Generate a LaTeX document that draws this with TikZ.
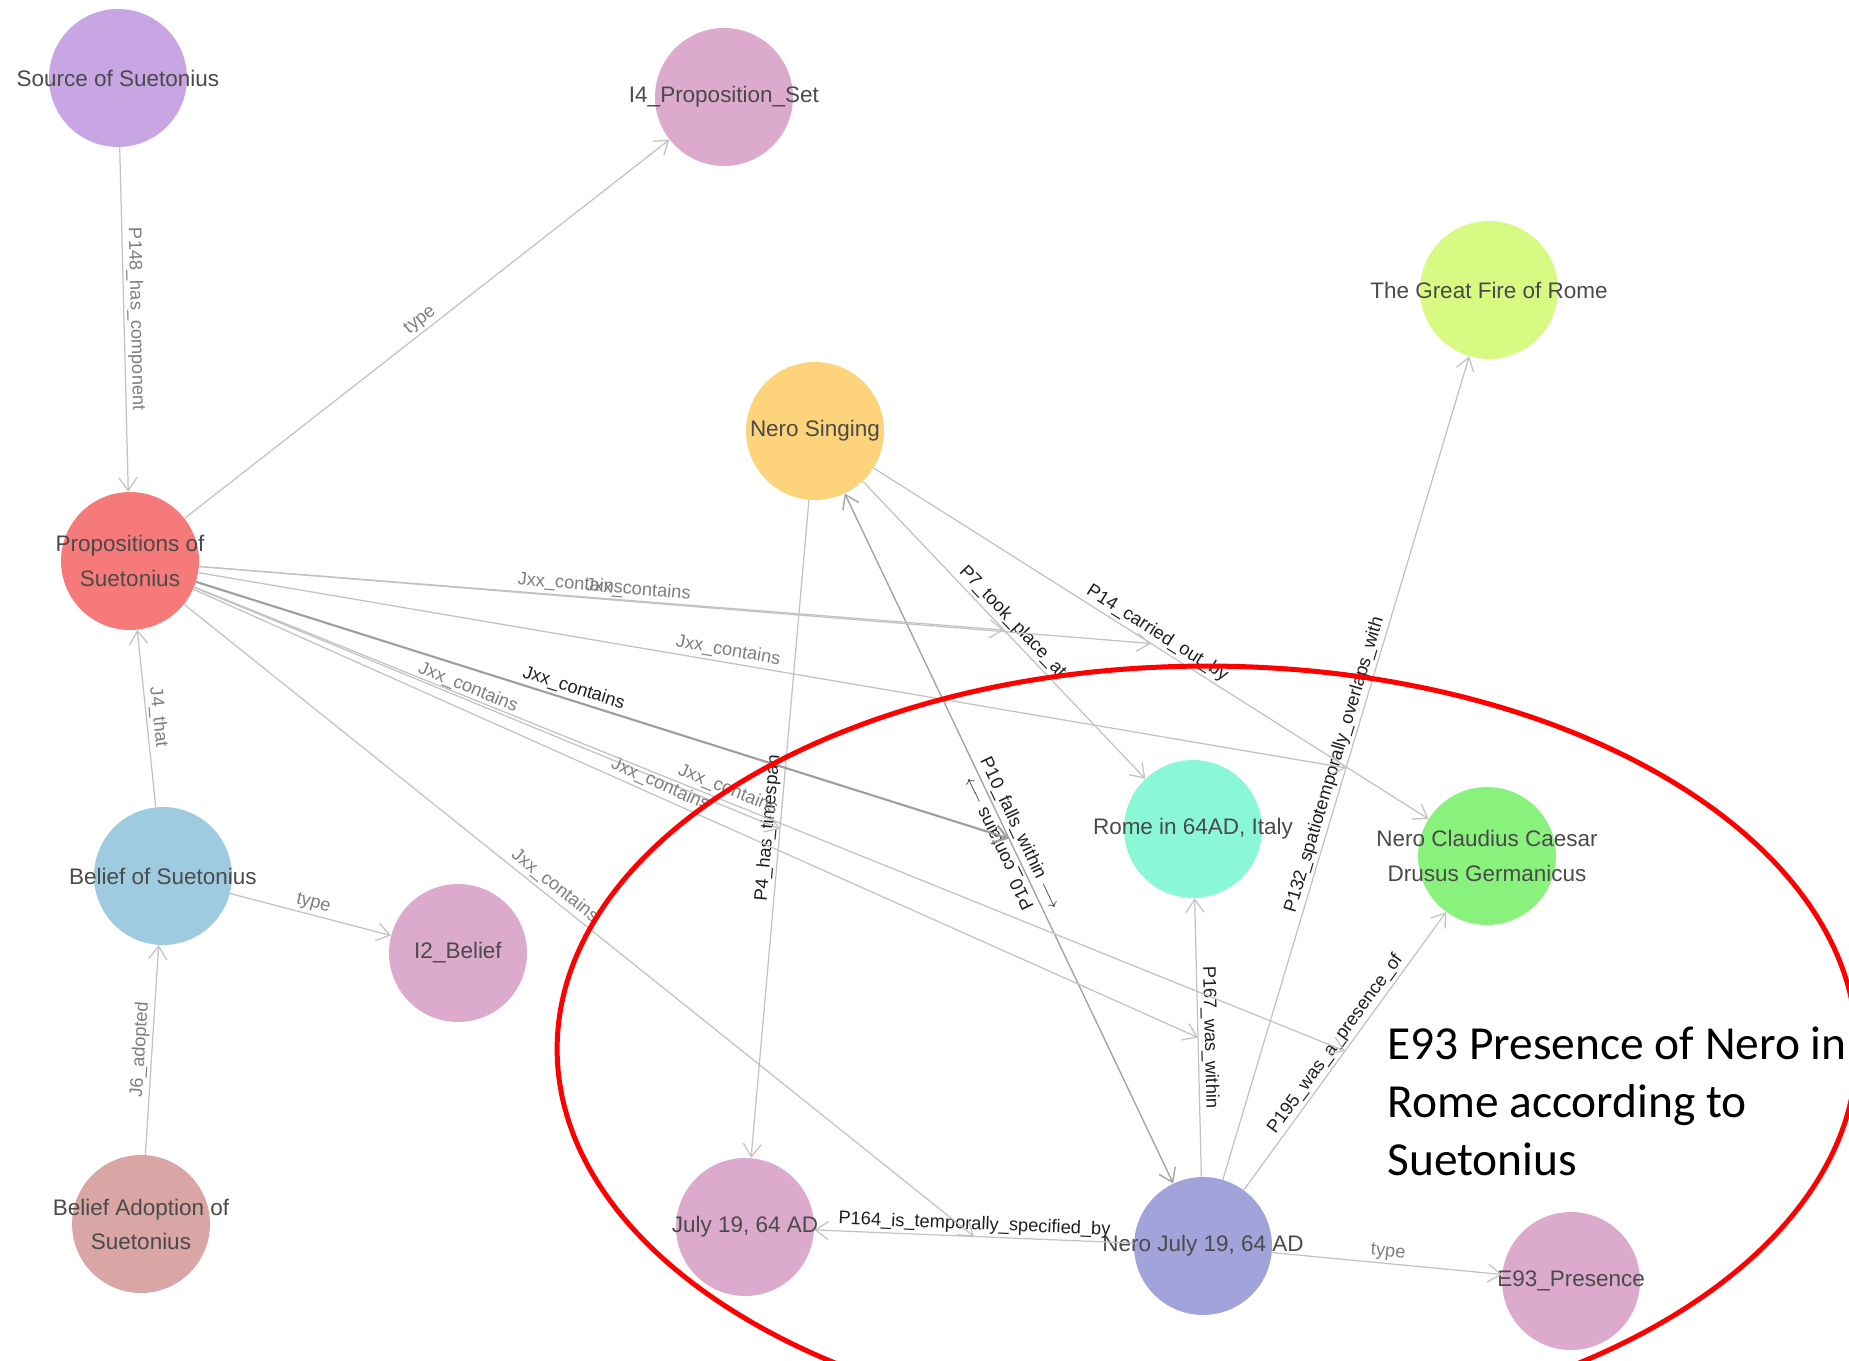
\documentclass[tikz,border=0pt]{standalone}
\usepackage{fontspec}
\setmainfont{Liberation Sans}
\newfontfamily\notefont{Carlito}
\usetikzlibrary{calc,arrows.meta}

\definecolor{srccol}{HTML}{C8A5E3}
\definecolor{classcol}{HTML}{DCAACD}
\definecolor{propcol}{HTML}{F67A7A}
\definecolor{singcol}{HTML}{FDD47C}
\definecolor{firecol}{HTML}{D9FA82}
\definecolor{romecol}{HTML}{8AF8D6}
\definecolor{nerocol}{HTML}{88F27C}
\definecolor{beliefcol}{HTML}{9ECBDF}
\definecolor{adoptcol}{HTML}{D9A5A5}
\definecolor{julycol}{HTML}{A3A3DC}
\definecolor{edgecol}{HTML}{C2C2C2}
\definecolor{labcol}{HTML}{7E7E7E}
\definecolor{txtcol}{HTML}{4A4A4A}

\tikzset{
  barb/.tip={Straight Barb[length=0.26cm,width=0.36cm]},
  entity/.style={circle,minimum size=2.76cm,inner sep=0pt},
  entlab/.style={text=txtcol,align=center,inner sep=0pt,font=\fontsize{12.8}{19.4}\selectfont},
  rel/.style={draw=edgecol,line width=0.7pt,-barb},
  relboth/.style={draw=edgecol!85!black,line width=0.8pt,barb-barb},
  relhi/.style={draw=black!38,line width=1.2pt,-barb},
  rellab/.style={sloped,above,inner sep=1.5pt,text=labcol,font=\fontsize{10.4}{12}\selectfont},
  hilab/.style={rellab,text=black!88},
}

\begin{document}
\begin{tikzpicture}[x=0.02cm,y=-0.02cm]
\useasboundingbox (0,0) rectangle (1849,1361);
\clip (0,0) rectangle (1849,1361);

\node[entity,fill=srccol,label={[entlab]center:Source of Suetonius}] (src) at (118,78) {};
\node[entity,fill=classcol,label={[entlab]center:I4\_Proposition\_Set}] (iprop) at (724,97) {};
\node[entity,fill=propcol,label={[entlab]center:{Propositions of\\Suetonius}}] (props) at (130,561) {};
\node[entity,fill=singcol,label={[entlab]center:Nero Singing}] (sing) at (815,431) {};
\node[entity,fill=firecol,label={[entlab]center:The Great Fire of Rome}] (fire) at (1489,290) {};
\node[entity,fill=romecol,label={[entlab]center:{Rome in 64AD, Italy}}] (rome) at (1193,829) {};
\node[entity,fill=nerocol,label={[entlab]center:{Nero Claudius Caesar\\Drusus Germanicus}}] (nero) at (1487,856) {};
\node[entity,fill=beliefcol,label={[entlab]center:Belief of Suetonius}] (belief) at (163,876) {};
\node[entity,fill=classcol,label={[entlab]center:I2\_Belief}] (ibelief) at (458,953) {};
\node[entity,fill=adoptcol,label={[entlab]center:{Belief Adoption of\\Suetonius}}] (adopt) at (141,1224) {};
\node[entity,fill=classcol,label={[entlab]center:{July 19, 64 AD}}] (july) at (745,1227) {};
\node[entity,fill=julycol,label={[entlab]center:{Nero July 19, 64 AD}}] (njuly) at (1203,1246) {};
\node[entity,fill=classcol,label={[entlab]center:E93\_Presence}] (e93) at (1571,1281) {};

\draw[rel] (src) -- node[rellab]{P148\_has\_component} (props);
\draw[rel] (props) -- node[rellab]{type} (iprop);
\draw[rel] (belief) -- node[rellab]{J4\_that} (props);
\draw[rel] (adopt) -- node[rellab]{J6\_adopted} (belief);
\draw[rel] (belief) -- node[rellab]{type} (ibelief);

\draw[rel] (sing) -- node[hilab]{P7\_took\_place\_at} (rome);
\draw[rel] (sing) -- node[hilab]{P14\_carried\_out\_by} (nero);
\draw[rel] (sing) -- node[hilab]{P4\_has\_timespan} (july);
\draw[relboth] (sing) -- node[hilab]{P10\_falls\_within $\longrightarrow$} (njuly);
\path (njuly) -- node[hilab,allow upside down]{P10\_contains $\longrightarrow$} (sing);
\draw[rel] (njuly) -- node[hilab]{P167\_was\_within} (rome);
\draw[rel] (njuly) -- node[hilab]{P132\_spatiotemporally\_overlaps\_with} (fire);
\draw[rel] (njuly) -- node[hilab]{P195\_was\_a\_presence\_of} (nero);
\draw[rel] (njuly) -- node[hilab]{P164\_is\_temporally\_specified\_by} (july);
\draw[rel] (njuly) -- node[rellab]{type} (e93);

\coordinate (m7) at ($(sing)!0.5!(rome)$);
\coordinate (m14) at ($(sing)!0.5!(nero)$);
\coordinate (m4) at ($(sing)!0.5!(july)$);
\coordinate (m10) at ($(sing)!0.5!(njuly)$);
\coordinate (m167) at ($(njuly)!0.5!(rome)$);
\coordinate (m132) at ($(njuly)!0.5!(fire)$);
\coordinate (m195) at ($(njuly)!0.5!(nero)$);
\coordinate (m164) at ($(njuly)!0.5!(july)$);
\foreach \m in {m7,m14,m4,m167,m132,m195,m164}
  \draw[rel] (props) -- node[rellab,pos=0.46]{Jxx\_contains} (\m);
\draw[relhi] (props) -- node[hilab,pos=0.46]{Jxx\_contains} (m10);

\draw[red,line width=0.1cm] (1207,1049) ellipse [x radius=13cm,y radius=7.66cm];
\node[anchor=north west,align=left,inner sep=0pt,font=\notefont\fontsize{27}{33}\selectfont] (note)
  at (1387,1027) {E93 Presence of Nero in\\Rome according to\\Suetonius};
\end{tikzpicture}
\end{document}
